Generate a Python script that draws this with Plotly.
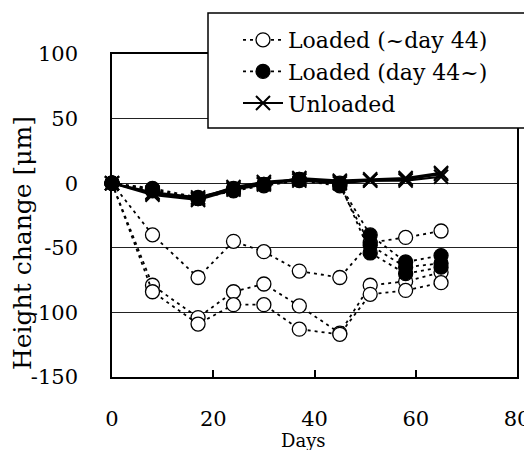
import plotly.graph_objects as go

days = [0, 8, 17, 24, 30, 37, 45, 51, 58, 65]

loaded_early_1 = [0, -40, -73, -45, -53, -68, -73, -46, -42, -37]
loaded_early_2 = [0, -79, -104, -84, -78, -95, -116, -79, -76, -69]
loaded_early_3 = [0, -84, -109, -94, -94, -113, -117, -86, -83, -77]

loaded_late_1 = [0, -4, -11, -4, -1, 3, -1, -40, -61, -56]
loaded_late_2 = [0, -5, -12, -6, -2, 2, -2, -48, -65, -62]
loaded_late_3 = [0, -6, -12, -5, -1, 3, 0, -54, -70, -65]

unloaded_1 = [0, -8, -12, -3, 1, 3, 1, 2, 3, 7]
unloaded_2 = [0, -7, -11, -4, 0, 2, 0, 2, 2, 5]
unloaded_3 = [0, -9, -13, -5, -1, 4, 2, 3, 4, 8]

legend_names = ["Loaded (~day 44)", "Loaded (day 44~)", "Unloaded"]
x_ticks = [0, 20, 40, 60, 80]
y_ticks = [-150, -100, -50, 0, 50, 100]

FONT = "DejaVu Serif"

fig = go.Figure()

groups = [
    (legend_names[0], [loaded_early_1, loaded_early_2, loaded_early_3],
     dict(symbol="circle", size=14, color="white", line=dict(color="black", width=1.3)),
     dict(color="black", width=1.8, dash="3px,4px")),
    (legend_names[1], [loaded_late_1, loaded_late_2, loaded_late_3],
     dict(symbol="circle", size=14, color="black", line=dict(color="black", width=1.3)),
     dict(color="black", width=1.8, dash="3px,4px")),
    (legend_names[2], [unloaded_1, unloaded_2, unloaded_3],
     dict(symbol="x-thin", size=14, color="black", line=dict(color="black", width=2)),
     dict(color="black", width=2.2)),
]

for name, series, marker, line in groups:
    for i, ys in enumerate(series):
        fig.add_trace(go.Scatter(
            x=days, y=ys, mode="lines+markers", name=name,
            legendgroup=name, showlegend=(i == 0),
            marker=marker, line=line, cliponaxis=False,
        ))

# the page body has an 8px default margin: figure coordinates = page - OFF
OFF = 8
W, H = 532, 450
L, T = 112 - OFF, 54 - OFF
R = W - (517 - OFF)
B = H - (377 - OFF)
pw, ph = W - L - R, H - T - B

def px(xp):
    return (xp - OFF - L) / pw

def py(yp):
    return (H - B - (yp - OFF)) / ph

fig.add_shape(type="rect", xref="paper", yref="paper",
              x0=px(208), x1=px(525), y0=py(128), y1=py(13),
              fillcolor="white", line=dict(color="black", width=1.5), layer="above")

fig.add_annotation(text="Days", xref="paper", yref="paper", x=px(303), y=py(440),
                   showarrow=False, xanchor="center", yanchor="middle",
                   font=dict(family=FONT, size=18, color="black"))
fig.add_annotation(text="Height change [μm]", xref="paper", yref="paper",
                   x=px(22), y=py(243), textangle=-90,
                   showarrow=False, xanchor="center", yanchor="middle",
                   font=dict(family=FONT, size=25, color="black"))

fig.update_layout(
    width=W, height=H,
    margin=dict(l=L, r=R, t=T, b=B, pad=0, autoexpand=False),
    paper_bgcolor="white", plot_bgcolor="white",
    font=dict(family=FONT, size=20, color="black"),
    showlegend=True,
    legend=dict(
        x=px(238), y=py(19), xanchor="left", yanchor="top",
        bgcolor="rgba(0,0,0,0)", borderwidth=0,
        font=dict(family=FONT, size=22, color="black"),
        traceorder="grouped", tracegroupgap=0, itemwidth=40,
    ),
    xaxis=dict(
        range=[0, 80], tickvals=x_ticks, ticktext=[str(v) for v in x_ticks],
        ticks="inside", ticklen=7, tickwidth=1.5, tickcolor="black",
        showline=True, linecolor="black", linewidth=1.5, mirror=True,
        showgrid=False, zeroline=False, ticklabelstandoff=22, automargin=False,
        tickfont=dict(family=FONT, size=21, color="black"),
    ),
    yaxis=dict(
        range=[-150, 100], tickvals=y_ticks, ticktext=[str(v) for v in y_ticks],
        ticks="", showline=True, linecolor="black", linewidth=1.5, mirror=True,
        showgrid=True, gridcolor="#222222", gridwidth=1.3, zeroline=False,
        ticklabelstandoff=28, automargin=False,
        tickfont=dict(family=FONT, size=21, color="black"),
    ),
)

fig.write_html("out.html")
